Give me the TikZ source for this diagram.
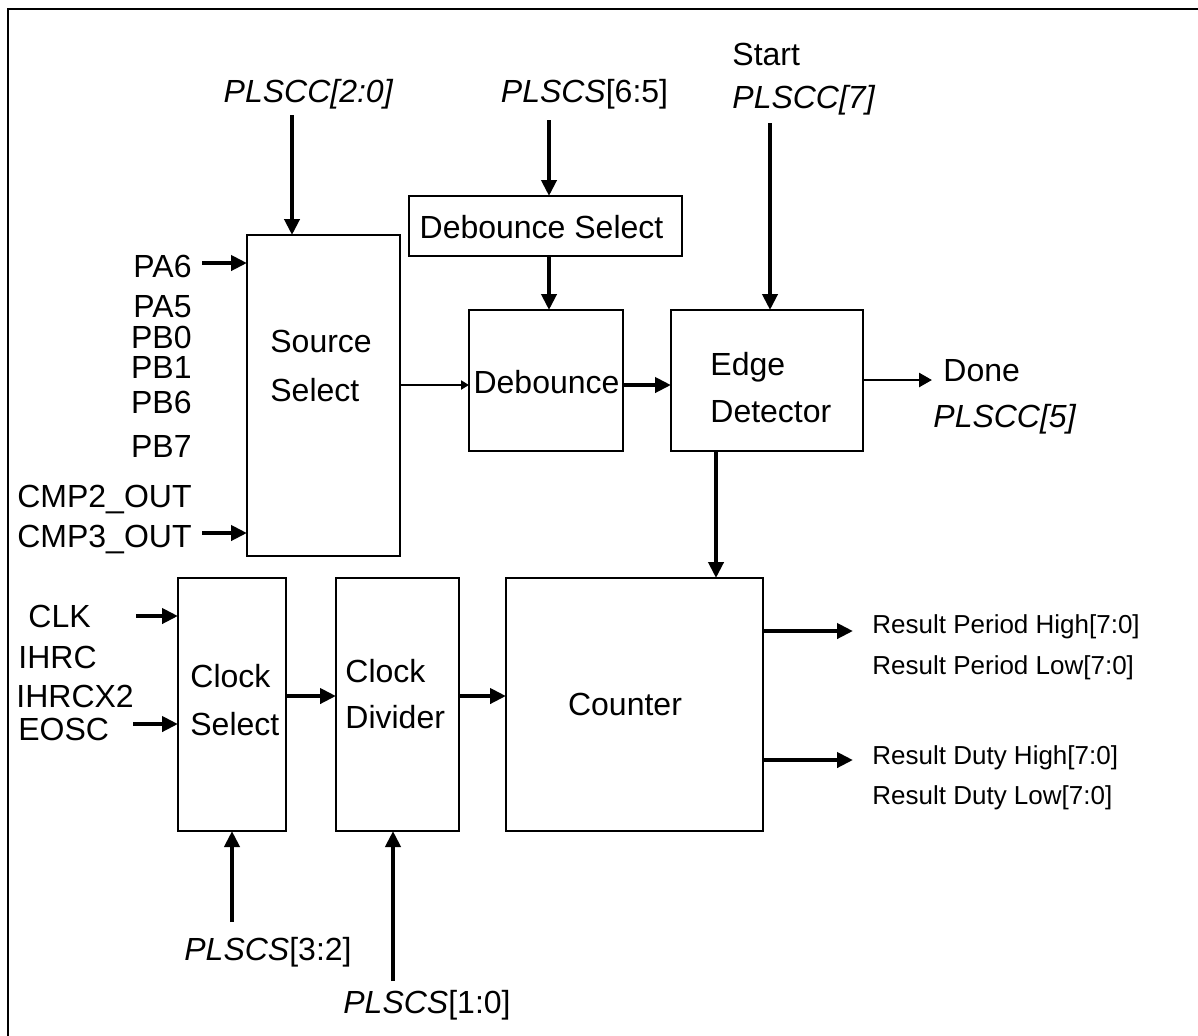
\documentclass[tikz,border=0pt]{standalone}
\usepackage{fontspec}
\setmainfont{Liberation Sans}
\usetikzlibrary{arrows.meta}
\begin{document}
\begin{tikzpicture}[x=0.5pt,y=-0.5pt,
  blk/.style={draw, line width=1pt, inner sep=0pt, outer sep=0pt},
  txt/.style={inner sep=0pt, font=\fontsize{16}{19}\selectfont},
  rtxt/.style={inner sep=0pt, font=\fontsize{13}{16}\selectfont, anchor=base west},
  arr/.style={line width=2pt, -{Triangle[length=8pt,width=7.5pt]}},
  thinarr/.style={line width=1.2pt, -{Triangle[length=4pt,width=4.5pt]}},
  midarr/.style={line width=1.3pt, -{Triangle[length=6.5pt,width=7pt]}}]
\useasboundingbox (0,0) rectangle (1198,1035);
\fill[white] (0,0) rectangle (1198,1035);
% frame
\draw[line width=1.3pt] (8,1045) -- (8,9) -- (1210,9);

% blocks
\node[blk, minimum width=76.5pt, minimum height=160.5pt] (src) at (323.5,395.5) {};
\node[blk, minimum width=136.5pt, minimum height=30pt] (dbs) at (545.5,226) {};
\node[blk, minimum width=77pt, minimum height=70.5pt] (deb) at (546,380.5) {};
\node[blk, minimum width=96pt, minimum height=70.5pt] (edge) at (767,380.5) {};
\node[blk, minimum width=128.5pt, minimum height=126.5pt] (cnt) at (634.5,704.5) {};
\node[blk, minimum width=54pt, minimum height=126.5pt] (csel) at (232,704.5) {};
\node[blk, minimum width=61.5pt, minimum height=126.5pt] (cdiv) at (397.5,704.5) {};

% block texts
\node[txt, anchor=base west] (tsrc1) at (270,352) {Source};
\node[txt, anchor=base west] (tsrc2) at (270,401) {Select};
\node[txt, anchor=base] (tdbs) at (541.5,238) {Debounce Select};
\node[txt, anchor=base] (tdeb) at (546.5,393) {Debounce};
\node[txt, anchor=base west] (tedge1) at (710,375) {Edge};
\node[txt, anchor=base west] (tedge2) at (710,422) {Detector};
\node[txt, anchor=base west] (tcsel1) at (190,687) {Clock};
\node[txt, anchor=base west] (tcsel2) at (190,735) {Select};
\node[txt, anchor=base west] (tcdiv1) at (345,682) {Clock};
\node[txt, anchor=base west] (tcdiv2) at (345,728) {Divider};
\node[txt, anchor=base] (tcnt) at (625,715) {Counter};

% top / side labels
\node[txt, anchor=base] (lplscc20) at (308.5,102) {\textit{PLSCC[2:0]}};
\node[txt, anchor=base] (lplscs65) at (584.5,102) {\textit{PLSCS}[6:5]};
\node[txt, anchor=base west] (lstart) at (732,65) {Start};
\node[txt, anchor=base west] (lplscc7) at (732,108) {\textit{PLSCC[7]}};
\node[txt, anchor=base west] (ldone) at (943,381) {Done};
\node[txt, anchor=base west] (lplscc5) at (933,427) {\textit{PLSCC[5]}};

% source inputs
\node[txt, anchor=base east] (lpa6) at (192,277) {PA6};
\node[txt, anchor=base east] (lpa5) at (192,317) {PA5};
\node[txt, anchor=base east] (lpb0) at (192,348) {PB0};
\node[txt, anchor=base east] (lpb1) at (192,378) {PB1};
\node[txt, anchor=base east] (lpb6) at (192,413) {PB6};
\node[txt, anchor=base east] (lpb7) at (192,457) {PB7};
\node[txt, anchor=base east] (lcmp2) at (192,507) {CMP2\_OUT};
\node[txt, anchor=base east] (lcmp3) at (192,547) {CMP3\_OUT};

% clock inputs
\node[txt, anchor=base west] (lclk) at (28,627) {CLK};
\node[txt, anchor=base west] (lihrc) at (18,668) {IHRC};
\node[txt, anchor=base west] (lihrcx2) at (16,707) {IHRCX2};
\node[txt, anchor=base west] (leosc) at (18,740) {EOSC};

% bottom labels
\node[txt, anchor=base] (lplscs32) at (268,960) {\textit{PLSCS}[3:2]};
\node[txt, anchor=base] (lplscs10) at (427,1013) {\textit{PLSCS}[1:0]};

% results
\node[rtxt] (r1) at (872,633) {Result Period High[7:0]};
\node[rtxt] (r2) at (872,674) {Result Period Low[7:0]};
\node[rtxt] (r3) at (872,764) {Result Duty High[7:0]};
\node[rtxt] (r4) at (872,804) {Result Duty Low[7:0]};

% free ends
\coordinate (pA1) at (292,115);
\coordinate (pA2) at (549,120);
\coordinate (pA4) at (770,123);
\coordinate (ySD) at (0,385);
\coordinate (pDone) at (932,380);
\coordinate (xEC) at (716,0);
\coordinate (pPA6) at (202,263);
\coordinate (pCMP3) at (202,533);
\coordinate (pCLK) at (136,616);
\coordinate (pEOSC) at (133,724);
\coordinate (yC) at (0,696);
\coordinate (p32) at (232,922);
\coordinate (p10) at (393,981);
\coordinate (pR1) at (853,631);
\coordinate (pR2) at (853,760);

% connectors
\draw[arr] (pA1) -- (pA1 |- src.north);
\draw[arr] (pA2) -- (pA2 |- dbs.north);
\draw[arr] (pA2 |- dbs.south) -- (pA2 |- deb.north);
\draw[arr] (pA4) -- (pA4 |- edge.north);
\draw[thinarr] (src.east |- ySD) -- (deb.west |- ySD);
\draw[arr] (deb.east |- ySD) -- (edge.west |- ySD);
\draw[midarr] (edge.east |- pDone) -- (pDone);
\draw[arr] (xEC |- edge.south) -- (xEC |- cnt.north);
\draw[arr] (pPA6) -- (pPA6 -| src.west);
\draw[arr] (pCMP3) -- (pCMP3 -| src.west);
\draw[arr] (pCLK) -- (pCLK -| csel.west);
\draw[arr] (pEOSC) -- (pEOSC -| csel.west);
\draw[arr] (csel.east |- yC) -- (cdiv.west |- yC);
\draw[arr] (cdiv.east |- yC) -- (cnt.west |- yC);
\draw[arr] (p32) -- (p32 |- csel.south);
\draw[arr] (p10) -- (p10 |- cdiv.south);
\draw[arr] (cnt.east |- pR1) -- (pR1);
\draw[arr] (cnt.east |- pR2) -- (pR2);
\end{tikzpicture}
\end{document}
